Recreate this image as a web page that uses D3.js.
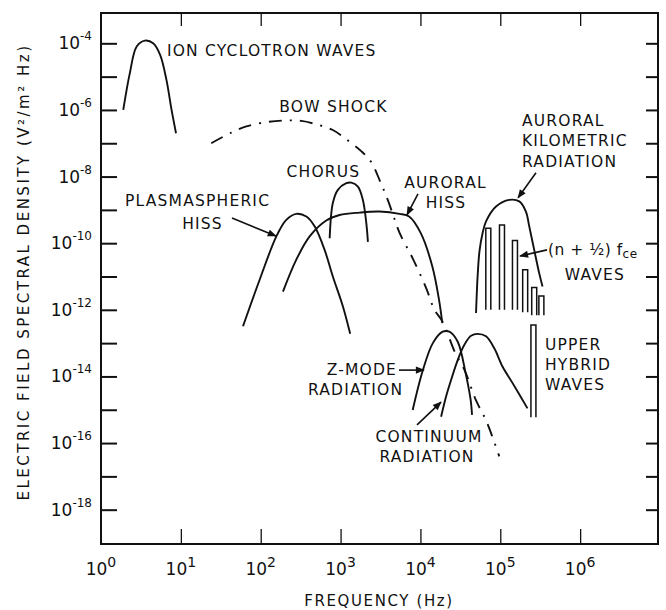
<!DOCTYPE html>
<html>
<head>
<meta charset="utf-8">
<script src="https://cdn.jsdelivr.net/npm/d3@7"></script>
<style>
  body { margin: 0; background: #fff; }
  text { font-family: "DejaVu Sans", sans-serif; fill: #111; }
</style>
</head>
<body>
<script>
/////////////////////////////////////
///      DATA  (frequency Hz, E-field spectral density V^2/m^2 Hz)
/////////////////////////////////////

var ionCyclotron = [[1.9,1e-6],[2.3,1.3e-5],[2.8,8e-5],[3.55,1.2e-4],[4.5,1e-4],[5.5,4.5e-5],[6.6,8e-6],[7.65,1e-6],[8.7,2e-7]];

var bowShock = [[24,1e-7],[43,2.1e-7],[66,3.2e-7],[118,4.3e-7],[190,4.8e-7],[323,4.7e-7],[497,3.7e-7],[800,2.5e-7],
                [1300,1.1e-7],[1800,5.9e-8],[2400,2.8e-8],[3200,6.3e-9],[3900,2e-9],[4700,5.6e-10],[5500,2e-10],
                [8000,3.5e-11],[11800,4.5e-12],[15000,1e-12],[18800,4.5e-13],[27900,4.5e-14],[35500,1.6e-14],
                [49700,1.9e-15],[66000,4.9e-16],[80000,1.5e-16],[97000,4e-17]];

var chorus = [[730,1.4e-10],[800,1.6e-9],[925,4e-9],[1180,6.3e-9],[1360,6.6e-9],[1650,5e-9],[1900,2e-9],[2100,4e-10],[2200,1.1e-10]];

var plasmasphericHiss = [[60,3.2e-13],[97,8e-12],[157,1.6e-10],[209,5e-10],[279,7.6e-10],[373,6.3e-10],[473,3.2e-10],
                         [631,6.3e-11],[800,1e-11],[1070,1.26e-12],[1320,1.9e-13]];

var auroralHiss = [[190,3.5e-12],[279,3.2e-11],[410,1.6e-10],[662,4.8e-10],[972,7e-10],[1730,8.3e-10],[3070,8.9e-10],
                   [5470,7.6e-10],[7220,6.3e-10],[10100,2e-10],[14100,2e-11],[17100,2e-12],[18800,4e-13]];

var akr = [[49700,8e-13],[52000,1e-11],[55000,6e-11],[60000,2e-10],[66300,4.5e-10],[88400,1.26e-9],[129600,2e-9],
           [172800,1.8e-9],[209500,8.9e-10],[230500,3.2e-10],[266000,6.3e-11],[307000,1.26e-11],[338000,5e-12]];

var zMode = [[8000,9.8e-16],[10700,1.5e-14],[14300,1e-13],[19000,2.2e-13],[23000,2.2e-13],[29300,1.1e-13],
             [36800,1.26e-14],[42500,2e-15],[44300,7e-16]];

var continuum = [[18150,6.2e-16],[20950,2.5e-15],[24200,7.8e-15],[29300,3.1e-14],[35500,8.9e-14],[43000,1.66e-13],
                 [52000,1.9e-13],[66300,1.6e-13],[84100,7e-14],[107000,1.95e-14],[142600,6.3e-15],[219000,1.1e-15]];

// (n + 1/2) fce emission lines and upper hybrid line
var fceFreq   = [70800, 105000, 152700, 205000, 266000, 327000];
var fceTop    = [2.8e-10, 3.5e-10, 1.2e-10, 1.6e-11, 4.7e-12, 2.6e-12];
var fceBottom = [1e-12, 1e-12, 1e-12, 8.5e-13, 6.9e-13, 6.9e-13];
var uhFreq = [260000], uhTop = [3.5e-13], uhBottom = [6e-16];

// axes
var xTickExp = [0, 1, 2, 3, 4, 5, 6];
var yTickExp = d3.range(-18, -3);           // every decade gets a tick
var yLabelExp = [-4, -6, -8, -10, -12, -14, -16, -18];

// labels, anchored in data space
var labels = [
  ["ION CYCLOTRON WAVES", 6.7, 5.9e-5, "start"],
  ["BOW SHOCK", 815, 1.2e-6, "middle"],
  ["CHORUS", 611, 1.4e-8, "middle"],
  ["PLASMASPHERIC", 16.2, 1.9e-9, "middle"],
  ["HISS", 18.7, 3.8e-10, "middle"],
  ["AURORAL", 20600, 6.4e-9, "middle"],
  ["HISS", 20900, 1.6e-9, "middle"],
  ["AURORAL", 187000, 4.7e-7, "start"],
  ["KILOMETRIC", 187000, 1.2e-7, "start"],
  ["RADIATION", 187000, 2.8e-8, "start"],
  ["WAVES", 1.53e6, 1.1e-11, "middle"],
  ["UPPER", 363000, 8.7e-14, "start"],
  ["HYBRID", 363000, 2.2e-14, "start"],
  ["WAVES", 363000, 5.5e-15, "start"],
  ["Z-MODE", 1850, 1.55e-14, "middle"],
  ["RADIATION", 1540, 3.9e-15, "middle"],
  ["CONTINUUM", 12800, 1.5e-16, "middle"],
  ["RADIATION", 12100, 3.8e-17, "middle"]
];
var arrows = [
  [[43.7,5.7e-10],[155,1.64e-10]],
  [[9320,3.0e-9],[6790,7.1e-10]],
  [[280000,1.3e-8],[167000,2.3e-9]],
  [[385000,6.3e-11],[176500,4.1e-11]],
  [[5390,1.55e-14],[11080,1.55e-14]],
  [[9060,3.5e-16],[18100,1.7e-15]]
];

/////////////////////////////////////
///      CHART
/////////////////////////////////////

var width = 666, height = 610;
var pLeft = 101, pRight = 658, pTop = 13, pBottom = 544;

var x = d3.scaleLog().domain([1, Math.pow(10, 6.975)]).range([pLeft, pRight]);
var y = d3.scaleLog().domain([Math.pow(10, -19.03), Math.pow(10, -3.09)]).range([pBottom, pTop]);

var svg = d3.select("body").append("svg")
            .attr("width", width)
            .attr("height", height);

svg.append("rect").attr("width", width).attr("height", height).attr("fill", "#fff");

var defs = svg.append("defs");
defs.append("marker")
    .attr("id", "head")
    .attr("viewBox", "0 0 10 10")
    .attr("refX", 9).attr("refY", 5)
    .attr("markerWidth", 10).attr("markerHeight", 9)
    .attr("markerUnits", "userSpaceOnUse")
    .attr("orient", "auto")
  .append("path")
    .attr("d", "M0,1L10,5L0,9Z")
    .attr("fill", "#111");

// frame
svg.append("rect")
   .attr("x", pLeft).attr("y", pTop)
   .attr("width", pRight - pLeft).attr("height", pBottom - pTop)
   .attr("fill", "none").attr("stroke", "#111").attr("stroke-width", 2);

// ticks
var yTicks = yTickExp.map(function(e){ return Math.pow(10, e); });
var xTicks = xTickExp.slice(1).map(function(e){ return Math.pow(10, e); });

function styleAxis(g, w) {
  g.select(".domain").remove();
  g.selectAll(".tick line").attr("stroke", "#111").attr("stroke-width", w);
}
svg.append("g").attr("transform", "translate(" + pLeft + ",0)")
   .call(d3.axisRight(y).tickValues(yTicks).tickSize(16).tickFormat(""))
   .call(styleAxis, 2);
svg.append("g").attr("transform", "translate(" + pRight + ",0)")
   .call(d3.axisLeft(y).tickValues(yTicks).tickSize(12).tickFormat(""))
   .call(styleAxis, 2);
svg.append("g").attr("transform", "translate(0," + pBottom + ")")
   .call(d3.axisTop(x).tickValues(xTicks).tickSize(15).tickFormat(""))
   .call(styleAxis, 1.3);
svg.append("g").attr("transform", "translate(0," + pTop + ")")
   .call(d3.axisBottom(x).tickValues(xTicks).tickSize(13).tickFormat(""))
   .call(styleAxis, 1.3);

// tick labels: 10 with superscript exponent
yLabelExp.forEach(function(e) {
  var t = svg.append("text")
     .attr("x", 92).attr("y", y(Math.pow(10, e)) + 6)
     .attr("text-anchor", "end");
  t.append("tspan").attr("font-size", 17).text("10");
  t.append("tspan").attr("font-size", 12).attr("dy", -9).text(String(e));
});
xTickExp.forEach(function(e) {
  var t = svg.append("text")
     .attr("x", x(Math.pow(10, e))).attr("y", 575)
     .attr("text-anchor", "middle");
  t.append("tspan").attr("font-size", 17).text("10");
  t.append("tspan").attr("font-size", 14).attr("dy", -8).text(String(e));
});

// axis titles
svg.append("text")
   .attr("x", 379).attr("y", 601)
   .attr("dominant-baseline", "central")
   .attr("text-anchor", "middle")
   .attr("font-size", 15).attr("letter-spacing", 1.6)
   .text("FREQUENCY (Hz)");
svg.append("text")
   .attr("transform", "translate(24,272) rotate(-90)")
   .attr("dominant-baseline", "central")
   .attr("text-anchor", "middle")
   .attr("font-size", 15).attr("letter-spacing", 2.5)
   .text("ELECTRIC FIELD SPECTRAL DENSITY (V\u00b2/m\u00b2 Hz)");

// spectra
var line = d3.line()
    .x(function(d){ return x(d[0]); })
    .y(function(d){ return y(d[1]); })
    .curve(d3.curveCatmullRom.alpha(0.5));

[ionCyclotron, chorus, plasmasphericHiss, auroralHiss, akr, zMode, continuum].forEach(function(s) {
  svg.append("path").datum(s)
     .attr("d", line)
     .attr("fill", "none").attr("stroke", "#111").attr("stroke-width", 1.9);
});
svg.append("path").datum(bowShock)
   .attr("d", line)
   .attr("fill", "none").attr("stroke", "#111").attr("stroke-width", 1.9)
   .attr("stroke-dasharray", "13,8,2,8");

// narrow emission lines drawn as open double strokes
function bands(freqs, tops, bottoms, w) {
  svg.append("g").selectAll("path")
     .data(freqs)
     .enter().append("path")
     .attr("d", function(f, i) {
        var cx = x(f), y0 = y(bottoms[i]), y1 = y(tops[i]);
        return "M" + (cx - w/2) + "," + y0 + "V" + y1 + "H" + (cx + w/2) + "V" + y0;
     })
     .attr("fill", "#fff").attr("stroke", "#111").attr("stroke-width", 1.5);
}
bands(fceFreq, fceTop, fceBottom, 5);
bands(uhFreq, uhTop, uhBottom, 5);

// arrows
arrows.forEach(function(a) {
  svg.append("line")
     .attr("x1", x(a[0][0])).attr("y1", y(a[0][1]))
     .attr("x2", x(a[1][0])).attr("y2", y(a[1][1]))
     .attr("stroke", "#111").attr("stroke-width", 1.6)
     .attr("marker-end", "url(#head)");
});

// labels
labels.forEach(function(l) {
  svg.append("text")
     .attr("x", x(l[1])).attr("y", y(l[2]))
     .attr("text-anchor", l[3])
     .attr("dominant-baseline", "central")
     .attr("font-size", 15.5).attr("letter-spacing", 1.2)
     .text(l[0]);
});
var fce = svg.append("text")
   .attr("x", x(395000)).attr("y", y(6.3e-11))
   .attr("dominant-baseline", "central")
   .attr("font-size", 15.5).attr("letter-spacing", 0.5);
fce.append("tspan").text("(n + \u00bd) f");
fce.append("tspan").attr("font-size", 12).attr("dy", 4).text("ce");
</script>
</body>
</html>
